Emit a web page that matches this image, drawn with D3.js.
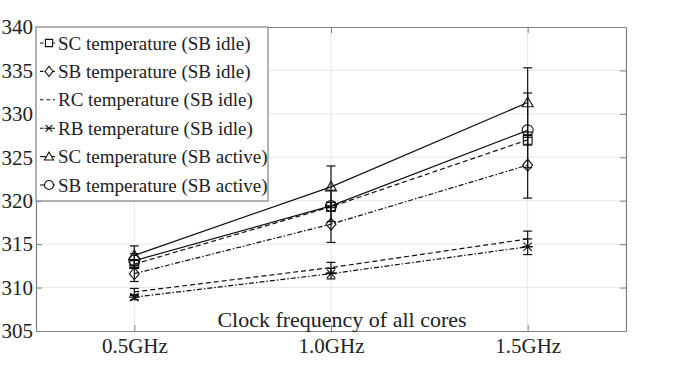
<!DOCTYPE html>
<html>
<head>
<meta charset="utf-8">
<script src="https://cdn.jsdelivr.net/npm/d3@7"></script>
<style>
  body { margin: 0; background: #fff; }
  text { font-family: "Liberation Serif", "DejaVu Serif", serif; fill: #222; }
</style>
</head>
<body>
<svg id="chart" width="698" height="372"></svg>
<script>
// ---- data ----
const freqs = [0.5, 1.0, 1.5];
const freqLabels = ["0.5GHz", "1.0GHz", "1.5GHz"];
const yTicks = [305, 310, 315, 320, 325, 330, 335, 340];

const seriesNames = [
  "SC temperature (SB idle)",
  "SB temperature (SB idle)",
  "RC temperature (SB idle)",
  "RB temperature (SB idle)",
  "SC temperature (SB active)",
  "SB temperature (SB active)"
];
const scIdle   = [312.7, 319.3, 327.0];
const sbIdle   = [311.6, 317.3, 324.1];
const rcIdle   = [309.5, 312.3, 315.6];
const rbIdle   = [308.9, 311.6, 314.7];
const scActive = [313.7, 321.6, 331.3];
const sbActive = [313.1, 319.4, 328.1];

const scIdleErr   = [0.4, 0.5, 0.6];
const sbIdleErr   = [0.9, 2.1, 3.8];
const rcIdleErr   = [0.4, 0.6, 0.9];
const rbIdleErr   = [0.3, 0.6, 0.9];
const scActiveErr = [1.1, 2.4, 4.0];
const sbActiveErr = [0.8, 1.8, 4.3];

const markers = ["square", "diamond", "none", "star", "triangle", "circle"];
const dashes  = ["5,3", "5,2,1.5,2", "5,3", "5,2,1.5,2", null, null];

const series = [
  [scIdle, scIdleErr], [sbIdle, sbIdleErr], [rcIdle, rcIdleErr],
  [rbIdle, rbIdleErr], [scActive, scActiveErr], [sbActive, sbActiveErr]
].map(([vals, errs], i) => ({
  name: seriesNames[i], marker: markers[i], dash: dashes[i],
  points: freqs.map((f, j) => ({ f, v: vals[j], e: errs[j] }))
}));

// ---- layout ----
const margin = { left: 36, right: 72, top: 27, bottom: 41 };
const W = 698, H = 372;
const svg = d3.select("#chart");

const x = d3.scaleLinear().domain([0.25, 1.75]).range([margin.left, W - margin.right]);
const y = d3.scaleLinear().domain([305, 340]).range([H - margin.bottom, margin.top]);

const axisColor = "#808080";
const gridColor = "#e8e8e8";

// grid
const grid = svg.append("g");
grid.selectAll(".gy").data(yTicks.slice(1, -1)).enter().append("line")
  .attr("x1", x.range()[0]).attr("x2", x.range()[1])
  .attr("y1", d => y(d)).attr("y2", d => y(d))
  .attr("stroke", gridColor).attr("stroke-width", 1);
grid.selectAll(".gx").data(freqs).enter().append("line")
  .attr("y1", y.range()[0]).attr("y2", y.range()[1])
  .attr("x1", d => x(d)).attr("x2", d => x(d))
  .attr("stroke", gridColor).attr("stroke-width", 1);

// axes (MATLAB box style, ticks inward)
const tickLen = 6;
const axL = svg.append("g").attr("transform", `translate(${margin.left},0)`)
  .call(d3.axisLeft(y).tickValues(yTicks).tickFormat(d3.format("d")).tickSizeInner(-tickLen).tickSizeOuter(0).tickPadding(3));
const axR = svg.append("g").attr("transform", `translate(${W - margin.right},0)`)
  .call(d3.axisRight(y).tickValues(yTicks).tickFormat("").tickSizeInner(-tickLen).tickSizeOuter(0));
const axB = svg.append("g").attr("transform", `translate(0,${H - margin.bottom})`)
  .call(d3.axisBottom(x).tickValues(freqs).tickFormat((d, i) => freqLabels[i]).tickSizeInner(-tickLen).tickSizeOuter(0).tickPadding(7));
const axT = svg.append("g").attr("transform", `translate(0,${margin.top})`)
  .call(d3.axisTop(x).tickValues(freqs).tickFormat("").tickSizeInner(-tickLen).tickSizeOuter(0));

[axL, axR, axB, axT].forEach(a => {
  a.select(".domain").attr("stroke", axisColor).attr("stroke-width", 1.2);
  a.selectAll(".tick line").attr("stroke", axisColor);
  a.selectAll(".tick text").attr("font-size", 21).attr("fill", "#222")
    .attr("font-family", "Liberation Serif");
});

// x-axis label (sits inside the plot area)
svg.append("text")
  .attr("x", 342).attr("y", 327)
  .attr("text-anchor", "middle").attr("font-size", 22)
  .text("Clock frequency of all cores");

// marker shapes
const markerPath = (type, s) => {
  const r = s / 2;
  switch (type) {
    case "square": return `M${-r*0.8},${-r*0.8}h${1.6*r}v${1.6*r}h${-1.6*r}Z`;
    case "diamond": return `M0,${-r*1.1}L${r*0.9},0L0,${r*1.1}L${-r*0.9},0Z`;
    case "triangle": return `M0,${-r}L${r},${r*0.75}L${-r},${r*0.75}Z`;
    case "circle": return `M${r},0A${r},${r} 0 1,1 ${-r},0A${r},${r} 0 1,1 ${r},0Z`;
    case "star": return `M${-r},0H${r}M${-r*0.75},${-r*0.75}L${r*0.75},${r*0.75}M${-r*0.75},${r*0.75}L${r*0.75},${-r*0.75}`;
    default: return "";
  }
};

const line = d3.line().x(d => x(d.f)).y(d => y(d.v));
const plot = svg.append("g");
const capW = 9, mSize = 11;

series.forEach(s => {
  const g = plot.append("g");
  g.append("path").datum(s.points)
    .attr("d", line).attr("fill", "none").attr("stroke", "#111")
    .attr("stroke-width", 1.2)
    .attr("stroke-dasharray", s.dash);
  const eb = g.selectAll(".eb").data(s.points).enter().append("g");
  eb.append("line")
    .attr("x1", d => x(d.f)).attr("x2", d => x(d.f))
    .attr("y1", d => y(d.v - d.e)).attr("y2", d => y(d.v + d.e))
    .attr("stroke", "#111").attr("stroke-width", 1.2);
  [-1, 1].forEach(sgn => {
    eb.append("line")
      .attr("x1", d => x(d.f) - capW / 2).attr("x2", d => x(d.f) + capW / 2)
      .attr("y1", d => y(d.v + sgn * d.e)).attr("y2", d => y(d.v + sgn * d.e))
      .attr("stroke", "#111").attr("stroke-width", 1.2);
  });
  g.selectAll(".mk").data(s.points).enter().append("path")
    .attr("transform", d => `translate(${x(d.f)},${y(d.v)})`)
    .attr("d", markerPath(s.marker, mSize))
    .attr("fill", "none").attr("stroke", "#111").attr("stroke-width", 1.1);
});

// legend
const leg = svg.append("g").attr("transform", `translate(${margin.left},${margin.top})`);
leg.append("rect")
  .attr("x", 0).attr("y", 0).attr("width", 232).attr("height", 174)
  .attr("fill", "#fff").attr("stroke", axisColor).attr("stroke-width", 1.2);
const rows = leg.selectAll(".row").data(series).enter().append("g")
  .attr("transform", (d, i) => `translate(0,${16 + i * 28.4})`);
rows.append("line")
  .attr("x1", 4).attr("x2", 19).attr("y1", 0).attr("y2", 0)
  .attr("stroke", "#111").attr("stroke-width", 1.1)
  .attr("stroke-dasharray", d => d.dash ? "3.5,3" : null);
rows.append("path")
  .attr("transform", "translate(13,0)")
  .attr("d", d => markerPath(d.marker, 9))
  .attr("fill", "#fff").attr("stroke", "#111").attr("stroke-width", 1.1);
rows.append("text")
  .attr("x", 22).attr("dy", "0.35em").attr("font-size", 19)
  .text(d => d.name);
</script>
</body>
</html>
